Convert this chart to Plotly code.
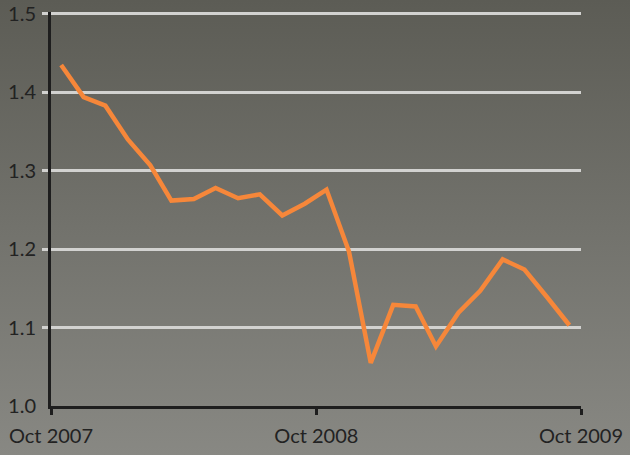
import base64
import pandas as pd
import plotly.graph_objects as go

# Monthly readings, mid-month, Oct 2007 – Sep 2009
months = pd.date_range("2007-10-01", periods=24, freq="MS") + pd.Timedelta(days=14)
values = [
    1.435, 1.394, 1.383, 1.340, 1.307, 1.262, 1.264, 1.278,
    1.265, 1.270, 1.243, 1.258, 1.276, 1.197, 1.055, 1.129,
    1.127, 1.076, 1.119, 1.147, 1.187, 1.174, 1.139, 1.103,
]

x_tick_vals = ["2007-10-01", "2008-10-01", "2009-10-01"]
x_tick_text = ["Oct 2007", "Oct 2008", "Oct 2009"]
y_tick_vals = [1.0, 1.1, 1.2, 1.3, 1.4, 1.5]
y_tick_text = ["1.0", "1.1", "1.2", "1.3", "1.4", "1.5"]
y_grid_vals = [1.1, 1.2, 1.3, 1.4, 1.5]
y_range = [1.0, 1.5025]

W, H = 630, 455
M_L, M_R, M_T, M_B = 51, 49, 12, 49
PW, PH = W - M_L - M_R, H - M_T - M_B

# Vertical grey gradient for the page background
svg = f"""<svg xmlns='http://www.w3.org/2000/svg' width='{W}' height='{H}' preserveAspectRatio='none'>
<defs><linearGradient id='g' x1='0' y1='0' x2='0' y2='1'>
<stop offset='0' stop-color='#5c5c55'/>
<stop offset='1' stop-color='#888883'/>
</linearGradient></defs>
<rect width='{W}' height='{H}' fill='url(#g)'/></svg>"""
bg_uri = "data:image/svg+xml;base64," + base64.b64encode(svg.encode()).decode()

font = dict(family="Lato, 'DejaVu Sans', sans-serif", size=20, color="#222222")
grid_col = "#d2d2d0"
axis_col = "#1e1e1e"

fig = go.Figure(
    go.Scatter(
        x=months,
        y=values,
        mode="lines",
        line=dict(color="#f6873a", width=4.5),
        hoverinfo="skip",
    )
)

fig.update_layout(
    width=W,
    height=H,
    margin=dict(l=M_L, r=M_R, t=M_T, b=M_B),
    paper_bgcolor="rgba(0,0,0,0)",
    plot_bgcolor="rgba(0,0,0,0)",
    showlegend=False,
    font=font,
    images=[
        dict(
            source=bg_uri,
            xref="paper",
            yref="paper",
            x=-M_L / PW,
            y=1 + M_T / PH,
            sizex=W / PW,
            sizey=H / PH,
            xanchor="left",
            yanchor="top",
            sizing="stretch",
            layer="below",
        )
    ],
)

fig.update_xaxes(
    range=["2007-10-01", "2009-10-01"],
    tickmode="array",
    tickvals=x_tick_vals,
    ticktext=x_tick_text,
    ticks="outside",
    ticklen=6,
    tickwidth=2.5,
    tickcolor=axis_col,
    showline=True,
    linecolor=axis_col,
    linewidth=2.5,
    mirror=False,
    layer="above traces",
    showgrid=False,
    zeroline=False,
    automargin=False,
    ticklabelstandoff=4,
    tickfont=font,
)

# Grid stubs left of the value axis: nudged a hair off the major values so
# they are not merged into the (tick-less) major ticks.
stub_vals = [v + 1e-6 for v in y_grid_vals]

fig.update_yaxes(
    range=y_range,
    tickmode="array",
    tickvals=y_tick_vals,
    ticktext=y_tick_text,
    ticks="",
    showline=True,
    linecolor=axis_col,
    linewidth=3,
    mirror=False,
    layer="above traces",
    showgrid=True,
    gridcolor=grid_col,
    gridwidth=2.5,
    zeroline=False,
    automargin=False,
    ticklabelstandoff=8,
    tickfont=font,
    minor=dict(
        tickmode="array",
        tickvals=stub_vals,
        ticks="outside",
        ticklen=6,
        tickwidth=2.5,
        tickcolor=grid_col,
        showgrid=False,
    ),
)

fig.write_html("out.html")
